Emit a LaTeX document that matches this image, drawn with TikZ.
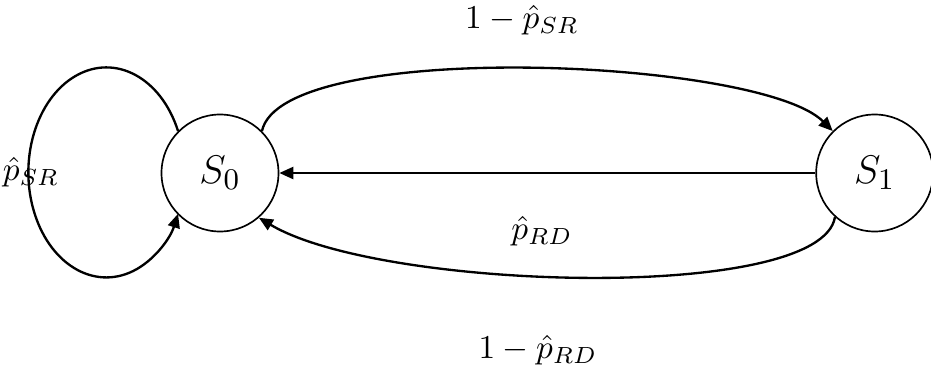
\documentclass[tikz,border=0pt]{standalone}
\usepackage{tikz}
\usetikzlibrary{arrows.meta, positioning}
\tikzstyle{state} = [circle, draw=black, line width=0.5pt, minimum size=35.1pt, inner sep=0pt, font=\fontsize{13}{15}\selectfont]
\tikzstyle{arrow} = [line width=0.7pt, -{Triangle[length=4.2pt, width=3.6pt]}]
\tikzstyle{prob} = [inner sep=0pt, font=\normalsize]

\begin{document}
\begin{tikzpicture}[x=0.3pt, y=-0.3pt]
  \useasboundingbox (0,0) rectangle (931,377);

  % States
  \node[state] (s0) at (220,173) {$S_0$};
  \node[state, right=160.8pt of s0] (s1) {$S_1$};

  % Probabilities
  \node[prob] (sr_top) at (522,20) {$1-\hat{p}_{SR}$};
  \node[prob] (rd_mid) at (542,231) {$\hat{p}_{RD}$};
  \node[prob] (rd_bot) at (538,350) {$1-\hat{p}_{RD}$};
  \node[prob] (sr_loop) at (31,172) {$\hat{p}_{SR}$};

  % Transitions
  \draw[arrow] (s0.45) .. controls +(20,-93) and +(-73,-73) .. (s1.135);
  \draw[arrow] (s1.west) -- (s0.east);
  \draw[arrow] (s1.228) .. controls +(-14,86) and +(122,73) .. (s0.311);
  \draw[arrow] (s0.135) arc[start angle=-23.2, end angle=-336.8, x radius=78, y radius=105];
\end{tikzpicture}
\end{document}
